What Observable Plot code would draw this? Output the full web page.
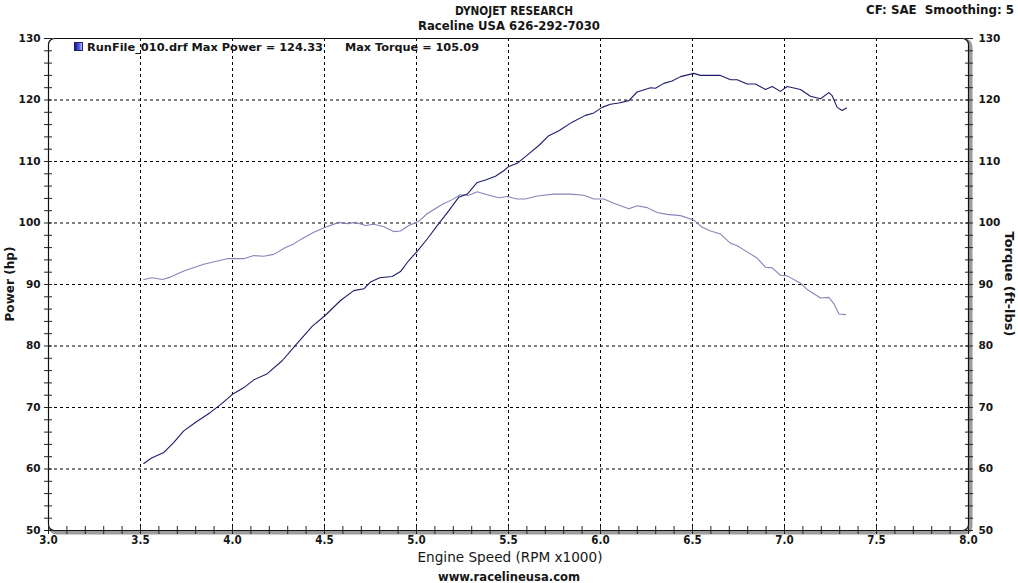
<!DOCTYPE html>
<html><head><meta charset="utf-8">
<script src="https://cdn.jsdelivr.net/npm/d3@7"></script>
<script src="https://cdn.jsdelivr.net/npm/@observablehq/plot@0.6"></script>
<style>
body{margin:0;background:#fff;}
#wrap{position:relative;width:1018px;height:583px;overflow:hidden;background:#fff;}
.t{position:absolute;white-space:pre;line-height:1;color:#161616;}
</style></head><body><div id="wrap"></div>
<script>
// ---- data ----
const powerRpm = [3.518,3.56,3.627,3.68,3.735,3.80,3.880,3.94,3.998,4.06,4.116,4.189,4.270,4.342,4.433,4.505,4.587,4.659,4.714,4.750,4.80,4.868,4.913,4.958,5.007,5.058,5.121,5.176,5.230,5.276,5.330,5.375,5.429,5.474,5.502,5.547,5.610,5.665,5.719,5.774,5.846,5.918,5.964,6.009,6.054,6.10,6.154,6.199,6.272,6.299,6.344,6.389,6.435,6.507,6.543,6.598,6.652,6.707,6.743,6.797,6.842,6.897,6.933,6.978,7.015,7.087,7.141,7.196,7.241,7.259,7.286,7.313,7.337];
const powerHp = [60.9,61.8,62.7,64.3,66.2,67.6,69.2,70.6,72.1,73.2,74.5,75.5,77.6,80.1,83.2,85.0,87.4,89.0,89.3,90.4,91.1,91.3,92.1,93.9,95.5,97.4,99.9,102.0,104.2,104.7,106.6,107.0,107.6,108.5,109.2,109.7,111.25,112.6,114.2,115.0,116.4,117.5,117.9,118.8,119.3,119.5,119.9,121.3,122.0,121.9,122.7,123.1,123.8,124.33,124.0,124.0,124.0,123.3,123.3,122.6,122.6,121.7,122.2,121.4,122.2,121.7,120.6,120.2,121.2,120.7,118.8,118.3,118.7];
const torqueRpm = [3.518,3.564,3.618,3.663,3.735,3.844,3.971,4.061,4.116,4.170,4.224,4.288,4.333,4.370,4.442,4.505,4.578,4.623,4.668,4.723,4.768,4.822,4.877,4.913,4.958,5.013,5.058,5.139,5.194,5.239,5.284,5.330,5.384,5.447,5.493,5.547,5.592,5.656,5.746,5.837,5.909,5.964,6.018,6.072,6.154,6.199,6.254,6.308,6.362,6.435,6.507,6.553,6.598,6.652,6.707,6.743,6.797,6.851,6.897,6.933,6.978,7.015,7.087,7.123,7.196,7.241,7.268,7.296,7.332];
const torqueFtlb = [90.8,91.1,90.8,91.2,92.2,93.3,94.2,94.2,94.7,94.6,94.9,96.0,96.6,97.3,98.5,99.3,100.1,99.9,100.1,99.6,99.8,99.4,98.6,98.7,99.6,100.3,101.5,103.0,103.8,104.6,104.5,105.09,104.6,104.1,104.3,103.9,103.9,104.4,104.7,104.7,104.5,103.9,103.9,103.2,102.3,102.8,102.5,101.7,101.4,101.2,100.5,99.3,98.7,98.2,96.7,96.3,95.3,94.3,92.8,92.7,91.5,91.4,90.2,89.2,87.8,87.9,86.9,85.2,85.1];
const xLabelTicks = [3.0,3.5,4.0,4.5,5.0,5.5,6.0,6.5,7.0,7.5,8.0];
const xGridTicks = [3.5,4.0,4.5,5.0,5.5,6.0,6.5,7.0,7.5];
const xMinorTicks = d3.range(30,81).map(d => d/10);
const yLabelTicks = [50,60,70,80,90,100,110,120,130];
const yGridTicks = [60,70,80,90,100,110,120];
const yMinorTicks = d3.range(50,131,2);

const titleText = "DYNOJET RESEARCH";
const subtitleText = "Raceline USA 626-292-7030";
const cornerText = "CF: SAE  Smoothing: 5";
const xTitle = "Engine Speed (RPM x1000)";
const yLeftTitle = "Power (hp)";
const yRightTitle = "Torque (ft-lbs)";
const footerText = "www.racelineusa.com";
const legendA = "RunFile_010.drf Max Power = 124.33";
const legendB = "Max Torque = 105.09";

const power = powerRpm.map((r,i) => ({rpm:r, v:powerHp[i]}));
const torque = torqueRpm.map((r,i) => ({rpm:r, v:torqueFtlb[i]}));

const wrap = document.getElementById("wrap");
const verdana = '"DejaVu Sans", Verdana, sans-serif';
const narrow = '"Liberation Sans Narrow", "DejaVu Sans Condensed", sans-serif';

const chart = Plot.plot({
  width: 1018, height: 583,
  marginTop: 38, marginBottom: 53, marginLeft: 48, marginRight: 50,
  x: {domain: [3, 8]},
  y: {domain: [50, 130]},
  style: {background: "transparent", color: "#161616"},
  marks: [
    Plot.frame({stroke: "#9c9c9c", strokeWidth: 4, dx: 2, dy: 2, rx: 6}),
    Plot.frame({fill: "white", stroke: "#111", strokeWidth: 1.2, rx: 6}),
    Plot.gridX(xGridTicks, {stroke: "#000", strokeOpacity: 1, strokeDasharray: "3,3"}),
    Plot.gridY(yGridTicks, {stroke: "#000", strokeOpacity: 1, strokeDasharray: "3,3"}),
    Plot.axisX(xMinorTicks, {tickSize: 8, dy: -4, text: null, label: null, stroke: "#222"}),
    Plot.axisX(xLabelTicks, {tickSize: 0, tickPadding: 5, label: null, tickFormat: d => d.toFixed(1),
      fontFamily: narrow, fontWeight: "bold", fontSize: 11.5, fill: "#161616"}),
    Plot.axisY(yMinorTicks, {anchor: "left", tickSize: 8, dx: 4, text: null, label: null, stroke: "#222"}),
    Plot.axisY(yLabelTicks, {anchor: "left", tickSize: 0, tickPadding: 8, label: null,
      fontFamily: verdana, fontWeight: "bold", fontSize: 10.5, fill: "#161616"}),
    Plot.axisY(yMinorTicks, {anchor: "right", tickSize: 8, dx: -4, text: null, label: null, stroke: "#222"}),
    Plot.axisY(yLabelTicks, {anchor: "right", tickSize: 0, tickPadding: 10, label: null,
      fontFamily: verdana, fontWeight: "bold", fontSize: 10.5, fill: "#161616"}),
    Plot.line(torque, {x: "rpm", y: "v", stroke: "#8585b8", strokeWidth: 1.1}),
    Plot.line(power, {x: "rpm", y: "v", stroke: "#1d1d6c", strokeWidth: 1.1})
  ]
});
chart.style.position = "absolute";
chart.style.left = "0px";
chart.style.top = "0px";
wrap.appendChild(chart);

function addText(txt, o) {
  const el = document.createElement("div");
  el.className = "t";
  el.textContent = txt;
  el.style.font = `${o.weight || "bold"} ${o.size}px ${o.family}`;
  wrap.appendChild(el);
  const nat = el.getBoundingClientRect().width;
  const k = o.w ? o.w / nat : 1;
  if (o.left !== undefined) {
    el.style.left = o.left + "px";
    el.style.top = (o.cy - o.size / 2) + "px";
    el.style.transformOrigin = "0 50%";
    el.style.transform = `scaleX(${k})`;
  } else {
    el.style.left = o.cx + "px";
    el.style.top = o.cy + "px";
    el.style.transform = `translate(-50%,-50%) rotate(${o.rotate || 0}deg) scaleX(${k})`;
  }
  return el;
}

addText(titleText, {cx: 514, cy: 10, w: 118, size: 13, family: narrow});
addText(subtitleText, {cx: 509, cy: 25, w: 182, size: 13, family: narrow});
addText(cornerText, {left: 866, cy: 8, w: 148, size: 13, family: narrow});
addText(xTitle, {cx: 510, cy: 557, w: 185, size: 13.5, family: narrow, weight: "normal"});
addText(footerText, {cx: 509, cy: 577, w: 142, size: 12, family: narrow});
addText(yLeftTitle, {cx: 10, cy: 284, w: 75, size: 12, family: verdana, rotate: -90});
addText(yRightTitle, {cx: 1009, cy: 284, w: 105, size: 12, family: verdana, rotate: 90});
addText(legendA, {left: 87, cy: 46.5, w: 236, size: 10, family: verdana});
addText(legendB, {left: 345, cy: 46.5, w: 134, size: 10, family: verdana});

const sw = document.createElement("div");
sw.style.cssText = "position:absolute;left:74px;top:42px;width:9px;height:9px;background:linear-gradient(90deg,#1010a0,#6a6ae8 70%,#c8c8ff);border:0.5px solid #202060;box-sizing:border-box;";
wrap.appendChild(sw);
</script>
</body></html>
